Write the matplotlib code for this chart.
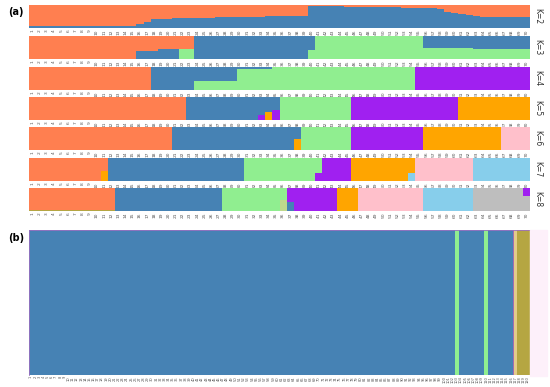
import matplotlib.pyplot as plt
from matplotlib.patches import Rectangle

colors = {
    "coral": "#FF7F50", "blue": "#4682B4", "green": "#90EE90", "purple": "#A020F0",
    "orange": "#FFA500", "pink": "#FFC0CB", "sky": "#87CEEB", "gray": "#BEBEBE",
    "olive": "#B5A642", "khaki": "#BFD88C", "tan": "#E3CB8A",
}

# panel (a): 70 individuals, blue share at K=2 (rest is coral)
k2_blue = [0.09] * 15 + [
    0.17, 0.27, 0.38, 0.40, 0.41, 0.42, 0.42, 0.43, 0.44, 0.45, 0.45, 0.46,
    0.47, 0.48, 0.48, 0.49, 0.50, 0.50, 0.51, 0.51, 0.52, 0.52, 0.52, 0.53,
    0.95, 0.95, 0.95, 0.94, 0.94, 0.93, 0.93, 0.92, 0.92, 0.91, 0.91, 0.90,
    0.90, 0.89, 0.88, 0.87, 0.86, 0.85, 0.84,
    0.68, 0.66, 0.62, 0.57, 0.52, 0.50, 0.49, 0.48, 0.48, 0.47, 0.47, 0.47,
]

# (number of individuals, memberships from bottom to top)
k3_groups = [
    (15, {"coral": 1.0}),
    (3, {"blue": 0.35, "coral": 0.65}),
    (3, {"blue": 0.43, "coral": 0.57}),
    (2, {"green": 0.43, "coral": 0.57}),
    (16, {"blue": 1.0}),
    (1, {"green": 0.40, "blue": 0.60}),
    (15, {"green": 1.0}),
    (7, {"green": 0.50, "blue": 0.50}),
    (8, {"green": 0.43, "blue": 0.57}),
]
k4_groups = [
    (17, {"coral": 1.0}),
    (6, {"blue": 1.0}),
    (6, {"green": 0.40, "blue": 0.60}),
    (5, {"green": 0.92, "blue": 0.08}),
    (20, {"green": 1.0}),
    (16, {"purple": 1.0}),
]
k5_groups = [
    (22, {"coral": 1.0}),
    (10, {"blue": 1.0}),
    (1, {"purple": 0.20, "blue": 0.80}),
    (1, {"orange": 0.35, "blue": 0.65}),
    (1, {"purple": 0.45, "blue": 0.55}),
    (10, {"green": 1.0}),
    (15, {"purple": 1.0}),
    (10, {"orange": 1.0}),
]
k6_groups = [
    (20, {"coral": 1.0}),
    (17, {"blue": 1.0}),
    (1, {"orange": 0.50, "blue": 0.50}),
    (7, {"green": 1.0}),
    (10, {"purple": 1.0}),
    (11, {"orange": 1.0}),
    (4, {"pink": 1.0}),
]
k7_groups = [
    (10, {"coral": 1.0}),
    (1, {"orange": 0.45, "coral": 0.55}),
    (19, {"blue": 1.0}),
    (10, {"green": 1.0}),
    (1, {"purple": 0.35, "green": 0.65}),
    (4, {"purple": 1.0}),
    (8, {"orange": 1.0}),
    (1, {"sky": 0.35, "orange": 0.65}),
    (8, {"pink": 1.0}),
    (8, {"sky": 1.0}),
]
k8_groups = [
    (12, {"olive": 0.06, "coral": 0.94}),
    (15, {"blue": 1.0}),
    (8, {"green": 1.0}),
    (1, {"khaki": 0.50, "green": 0.50}),
    (1, {"blue": 0.40, "purple": 0.60}),
    (6, {"purple": 1.0}),
    (3, {"orange": 1.0}),
    (9, {"pink": 1.0}),
    (7, {"sky": 1.0}),
    (7, {"gray": 1.0}),
    (1, {"gray": 0.65, "purple": 0.35}),
]

# panel (b): 120 individuals, K=3
kb_groups = [
    (102, {"blue": 1.0}),
    (1, {"green": 1.0}),
    (6, {"blue": 1.0}),
    (1, {"green": 1.0}),
    (6, {"blue": 1.0}),
    (1, {"tan": 1.0}),
    (3, {"olive": 1.0}),
]

ids_a = [str(i) for i in range(1, 71)]
ids_b = [str(i) for i in range(1, 121)]


def expand(groups):
    rows = []
    for n, q in groups:
        rows += [q] * n
    return rows


def draw(ax, rows, labels, ktext, labelsize):
    for i, q in enumerate(rows):
        bottom = 0.0
        for name, val in q.items():
            ax.bar(i, val, width=1.0, bottom=bottom, align="edge",
                   color=colors[name], linewidth=0)
            bottom += val
    ax.set_xlim(0, len(rows))
    ax.set_ylim(0, 1)
    ax.set_yticks([])
    ax.set_xticks([i + 0.5 for i in range(len(rows))])
    ax.set_xticklabels(labels, rotation=90, fontsize=labelsize, color="#555555")
    ax.tick_params(axis="x", length=0, pad=0.8)
    for s in ax.spines.values():
        s.set_visible(False)
    ax.text(1.006, 0.5, ktext, transform=ax.transAxes, rotation=270,
            va="center", ha="left", fontsize=5.5, color="#333333")


fig = plt.figure(figsize=(5.5, 3.87), dpi=100)
W, H = 550.0, 387.0
left, right = 29, 530

k2_rows = [{"blue": b, "coral": 1 - b} for b in k2_blue]
panels = [
    (k2_rows, "K=2"), (expand(k3_groups), "K=3"), (expand(k4_groups), "K=4"),
    (expand(k5_groups), "K=5"), (expand(k6_groups), "K=6"),
    (expand(k7_groups), "K=7"), (expand(k8_groups), "K=8"),
]
tops = [5, 36, 67, 97, 127, 158, 188]
for (rows, kt), top in zip(panels, tops):
    ax = fig.add_axes([left / W, 1 - (top + 23) / H, (right - left) / W, 23 / H])
    draw(ax, rows, ids_a, kt, 3.2)

fig.patches.append(Rectangle((530 / W, 1 - 376 / H), 17 / W, 146 / H,
                             transform=fig.transFigure, color="#FDF0FA", zorder=0))
axb = fig.add_axes([left / W, 1 - 375 / H, (right - left) / W, 145 / H])
draw(axb, expand(kb_groups), ids_b, "K=3", 2.6)
axb.axvline(116, color="#9B59B6", lw=0.6)
for side in ("top", "left"):
    axb.spines[side].set_visible(True)
    axb.spines[side].set_color("#9B6FC0")
    axb.spines[side].set_linewidth(0.6)

fig.text(8 / W, 1 - 15 / H, "(a)", fontsize=7, fontweight="bold")
fig.text(8 / W, 1 - 241 / H, "(b)", fontsize=7, fontweight="bold")

fig.savefig("out.png", dpi=100)
